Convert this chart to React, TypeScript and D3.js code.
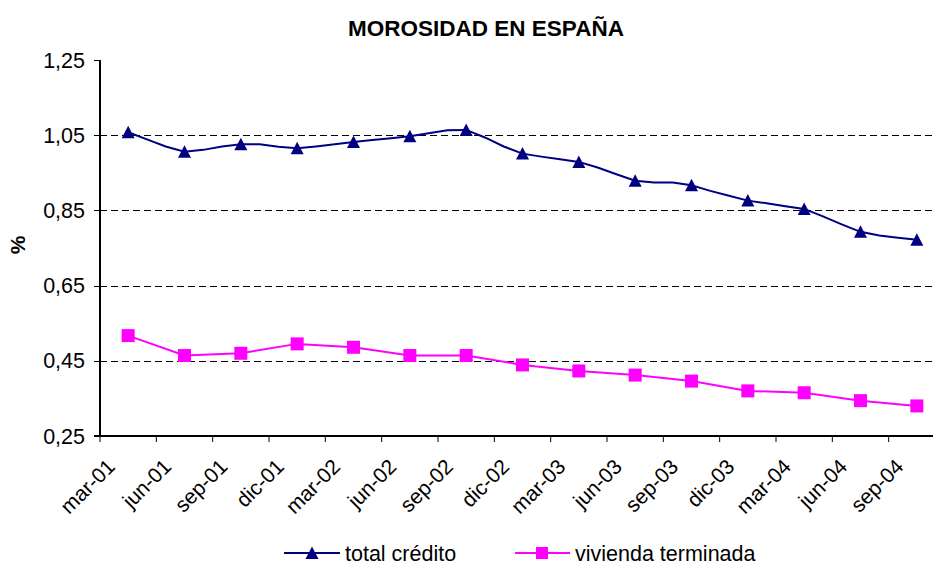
import React from 'react';
import * as d3 from 'd3';

const quarterLabels = ['mar-01','jun-01','sep-01','dic-01','mar-02','jun-02','sep-02','dic-02','mar-03','jun-03','sep-03','dic-03','mar-04','jun-04','sep-04'];

// monthly values, mar-01 .. sep-04
const totalCredito = [
  1.058, 1.039, 1.020, 1.006, 1.011, 1.020, 1.026, 1.026, 1.019, 1.015,
  1.020, 1.026, 1.032, 1.037, 1.042, 1.047, 1.055, 1.063, 1.064, 1.044, 1.020, 1.001,
  0.993, 0.986, 0.979, 0.964, 0.946, 0.929, 0.924, 0.924, 0.917, 0.902, 0.889, 0.876,
  0.869, 0.861, 0.854, 0.834, 0.813, 0.793, 0.783, 0.777, 0.772,
];

// quarterly values
const viviendaTerminada = [0.517, 0.464, 0.470, 0.495, 0.486, 0.464, 0.464, 0.439, 0.423, 0.412, 0.396, 0.370, 0.365, 0.344, 0.330];

const yTicks = [0.25, 0.45, 0.65, 0.85, 1.05, 1.25];
const yTickLabels = ['0,25', '0,45', '0,65', '0,85', '1,05', '1,25'];

const FONT = '"Liberation Sans", Arial, sans-serif';
const BLUE = '#000080';
const PINK = '#FF00FF';

export default function App() {
  const W = 933, H = 564;
  const left = 100, right = 945, top = 60, bottom = 436;
  // x in months: mar-01 = 0
  const x = d3.scaleLinear().domain([-1.5, 43.5]).range([left, right]);
  const y = d3.scaleLinear().domain([0.25, 1.25]).range([bottom, top]);

  const blueLine = d3.line<number>().x((_, i) => x(i)).y(d => y(d))(totalCredito) || '';
  const pinkLine = d3.line<number>().x((_, i) => x(i * 3)).y(d => y(d))(viviendaTerminada) || '';

  const tri = (cx: number, cy: number, s = 6.5) =>
    `M${cx},${cy - s}L${cx + s},${cy + s - 0.5}L${cx - s},${cy + s - 0.5}Z`;

  const tickXs = d3.range(0, 16).map(k => x(-1.5 + 3 * k));
  const markerIdx = d3.range(0, totalCredito.length, 3);

  return (
    <svg width={W} height={H} style={{ position: 'absolute', left: 0, top: 0, background: '#fff' }} fontFamily={FONT}>
      <rect x={0} y={0} width={W} height={H} fill="#fff" />
      <text x={486} y={36} textAnchor="middle" fontWeight="bold" fontSize={22.5}>MOROSIDAD EN ESPAÑA</text>

      {/* gridlines */}
      {yTicks.slice(1, -1).map(v => (
        <line key={v} x1={left} x2={right} y1={Math.round(y(v)) + 0.5} y2={Math.round(y(v)) + 0.5}
          stroke="#000" strokeWidth={1} strokeDasharray="7,4" />
      ))}

      {/* y axis */}
      <line x1={left} x2={left} y1={top} y2={bottom} stroke="#000" strokeWidth={2} />
      {yTicks.map((v, i) => (
        <g key={v}>
          <line x1={left - 6} x2={left} y1={Math.round(y(v)) + 0.5} y2={Math.round(y(v)) + 0.5} stroke="#000" strokeWidth={1} />
          <text x={85} y={y(v) + 7.5} textAnchor="end" fontSize={21.5}>{yTickLabels[i]}</text>
        </g>
      ))}
      <text transform={`translate(25,245) rotate(-90)`} textAnchor="middle" fontWeight="bold" fontSize={21}>%</text>

      {/* x axis */}
      <line x1={left - 6} x2={right} y1={bottom} y2={bottom} stroke="#000" strokeWidth={2} />
      {tickXs.map((tx, i) => (
        <line key={i} x1={tx} x2={tx} y1={bottom} y2={bottom + 6} stroke="#000" strokeWidth={1} />
      ))}
      {quarterLabels.map((lab, i) => {
        const cx = x(i * 3);
        return (
          <text key={lab} transform={`translate(${cx - 12},${468}) rotate(-45)`} textAnchor="end" fontSize={21}>{lab}</text>
        );
      })}

      {/* series */}
      <path d={blueLine} fill="none" stroke={BLUE} strokeWidth={2} />
      {markerIdx.map(i => (
        <path key={i} d={tri(x(i), y(totalCredito[i]))} fill={BLUE} />
      ))}
      <path d={pinkLine} fill="none" stroke={PINK} strokeWidth={2} />
      {viviendaTerminada.map((v, i) => (
        <rect key={i} x={x(i * 3) - 6.5} y={y(v) - 6.5} width={13} height={13} fill={PINK} />
      ))}

      {/* legend */}
      <line x1={284} x2={340} y1={553} y2={553} stroke={BLUE} strokeWidth={2} />
      <path d={tri(312, 553)} fill={BLUE} />
      <text x={345} y={560.5} fontSize={21.5}>total crédito</text>
      <line x1={515} x2={570} y1={553} y2={553} stroke={PINK} strokeWidth={2} />
      <rect x={536} y={547} width={12} height={12} fill={PINK} />
      <text x={575} y={560.5} fontSize={21.5}>vivienda terminada</text>
    </svg>
  );
}
